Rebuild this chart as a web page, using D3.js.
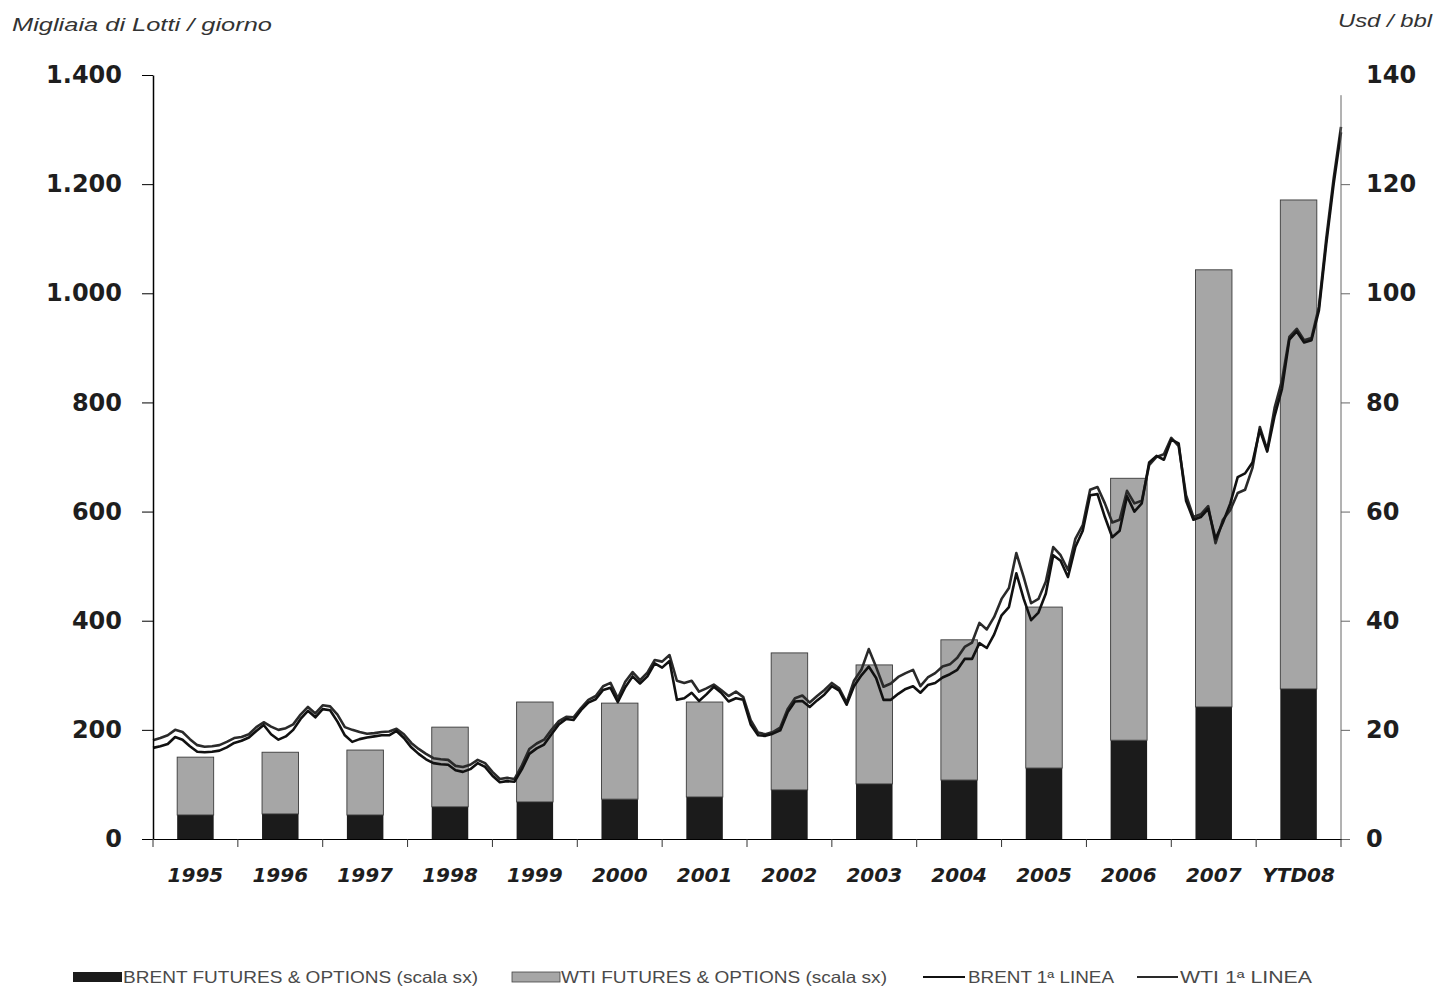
<!DOCTYPE html>
<html>
<head>
<meta charset="utf-8">
<script src="https://cdn.jsdelivr.net/npm/d3@7"></script>
<style>
    body { margin: 0; background: #fff; }
</style>
</head>
<body>
<div id="vis"></div>
<script>
//categories on the x axis
const years = ["1995", "1996", "1997", "1998", "1999", "2000", "2001", "2002", "2003", "2004", "2005", "2006", "2007", "YTD08"]

//thousands of lots per day, stacked bars (left scale)
const brentLots = [44, 46, 44, 59, 68, 73, 77, 90, 101, 108, 130, 181, 242, 275]
const wtiLots = [106, 113, 119, 146, 183, 176, 174, 251, 218, 257, 295, 480, 801, 896]

//monthly first line price usd/bbl (right scale), jan 1995 -> jun 2008
const brentPrice = [
    16.7, 17.0, 17.4, 18.7, 18.2, 17.0, 16.0, 15.9, 16.0, 16.2, 16.8, 17.6,
    18.0, 18.6, 19.8, 20.9, 19.2, 18.2, 18.8, 20.0, 22.0, 23.5, 22.3, 23.8,
    23.6, 21.5, 19.0, 17.8, 18.3, 18.6, 18.8, 19.0, 19.0, 19.8, 18.5, 16.8,
    15.6, 14.6, 13.9, 13.7, 13.6, 12.6, 12.3, 12.8, 13.9, 13.2, 11.6, 10.4,
    10.6, 10.5, 12.8, 15.6, 16.6, 17.3, 19.2, 21.0, 22.0, 21.8, 23.6, 25.0,
    25.6, 27.3, 27.7, 25.1, 27.8, 29.8, 28.5, 29.8, 32.2, 31.4, 32.6, 25.5,
    25.8, 26.8, 25.3, 26.5, 27.9, 26.8, 25.2, 25.8, 25.5, 21.0, 19.0, 18.9,
    19.3, 19.9, 23.2, 25.2, 25.3, 24.2, 25.4, 26.5, 28.0, 27.2, 24.6, 28.0,
    30.0, 31.6, 29.5, 25.5, 25.5, 26.6, 27.5, 28.0, 26.8, 28.2, 28.6, 29.6,
    30.2, 31.0, 33.0, 33.0, 35.9, 35.0, 37.5, 41.0, 42.5, 48.7, 44.0, 40.1,
    41.5, 45.0, 52.0, 51.0, 48.0, 53.5, 56.5, 63.0, 63.2, 59.0, 55.3, 56.5,
    62.8, 60.0, 61.5, 69.0, 70.2, 69.5, 73.2, 72.5, 62.0, 58.5, 59.0, 60.5,
    55.0, 58.0, 61.5, 66.3, 67.0, 69.0, 75.0, 71.0, 77.5, 82.5, 91.5, 93.0,
    91.0, 91.4, 96.8, 109.0, 120.0, 129.5
]
const wtiPrice = [
    18.1, 18.5, 19.0, 20.0, 19.6, 18.3, 17.2, 16.9, 17.0, 17.2, 17.8, 18.5,
    18.7, 19.2, 20.5, 21.4, 20.6, 20.0, 20.3, 21.0, 22.8, 24.2, 23.0, 24.5,
    24.3, 22.8, 20.5, 20.0, 19.6, 19.3, 19.4, 19.6, 19.7, 20.2, 19.2, 17.6,
    16.5, 15.6, 14.8, 14.6, 14.5, 13.4, 13.2, 13.6, 14.5, 13.9, 12.3, 11.0,
    11.2, 11.0, 13.5, 16.5, 17.5, 18.2, 20.0, 21.6, 22.4, 22.3, 24.0, 25.5,
    26.2, 28.0, 28.6, 25.8, 28.8, 30.6, 29.1, 30.5, 32.8, 32.5, 33.7, 29.0,
    28.6, 29.0, 27.0, 27.6, 28.3, 27.3, 26.2, 27.0, 26.0, 21.8, 19.5, 19.2,
    19.6, 20.4, 23.8, 25.8, 26.3, 25.0, 26.2, 27.3, 28.6, 27.6, 25.0, 29.0,
    31.0, 34.8, 31.5, 27.9, 28.5, 29.7, 30.4, 31.0, 28.0, 29.6, 30.4, 31.6,
    32.0, 33.2, 35.2, 36.0, 39.6, 38.4, 40.7, 44.0, 46.0, 52.4, 48.0, 43.2,
    44.0, 47.2, 53.5, 52.0, 49.3, 55.0, 57.5, 64.0, 64.5, 61.5, 58.0, 58.5,
    63.8, 61.5, 62.0, 68.5, 70.0, 70.5, 73.5, 72.0, 63.0, 59.0, 59.5, 61.0,
    54.2, 58.5, 60.3, 63.4, 64.0, 68.0, 75.5, 71.3, 79.0, 84.0, 92.0, 93.5,
    91.4, 91.8, 97.5, 110.0, 121.0, 130.5
]

//tick values for the two y axes
const leftTicks = [0, 200, 400, 600, 800, 1000, 1200, 1400]
const rightTicks = [0, 20, 40, 60, 80, 100, 120, 140]

//legend texts
const legendLabels = ["BRENT FUTURES & OPTIONS (scala sx)", "WTI FUTURES & OPTIONS (scala sx)", "BRENT 1ª LINEA", "WTI 1ª LINEA"]

//size of the page and of the plot area
const width = 1439
const height = 989
const margin = { top: 75, right: 98, bottom: 150, left: 153 }
const innerW = width - margin.left - margin.right
const innerH = height - margin.top - margin.bottom

const svg = d3.select("#vis")
    .append("svg")
    .attr("width", width)
    .attr("height", height)

const g = svg.append("g")
    .attr("transform", `translate(${margin.left}, ${margin.top})`)

//scales
const x = d3.scaleBand()
    .domain(years)
    .range([0, innerW])
    .padding(0)

const xMonth = d3.scaleLinear()
    .domain([0, brentPrice.length - 1])
    .range([0, innerW])

const yLeft = d3.scaleLinear()
    .domain([0, 1400])
    .range([innerH, 0])

const yRight = d3.scaleLinear()
    .domain([0, 140])
    .range([innerH, 0])

//stack the two volume series
const rows = years.map((year, i) => ({ year: year, brent: brentLots[i], wti: wtiLots[i] }))
const stacked = d3.stack().keys(["brent", "wti"])(rows)
const barColor = { brent: "#1b1b1b", wti: "#a6a6a6" }
const barW = x.bandwidth() * 0.43

g.selectAll(".series")
    .data(stacked)
    .enter()
    .append("g")
    .attr("class", "series")
    .attr("fill", d => barColor[d.key])
    .attr("stroke", d => d.key == "wti" ? "#3a3a3a" : "none")
    .attr("stroke-width", 0.9)
    .selectAll("rect")
    .data(d => d)
    .enter()
    .append("rect")
    .attr("x", d => x(d.data.year) + (x.bandwidth() - barW) / 2)
    .attr("width", barW)
    .attr("y", d => yLeft(d[1]))
    .attr("height", d => yLeft(d[0]) - yLeft(d[1]))

//price lines
const line = d3.line()
    .x((d, i) => xMonth(i))
    .y(d => yRight(d))

g.append("path")
    .datum(wtiPrice)
    .attr("fill", "none")
    .attr("stroke", "#2a2a2a")
    .attr("stroke-width", 2.6)
    .attr("stroke-linejoin", "round")
    .attr("d", line)

g.append("path")
    .datum(brentPrice)
    .attr("fill", "none")
    .attr("stroke", "#111")
    .attr("stroke-width", 2.6)
    .attr("stroke-linejoin", "round")
    .attr("d", line)

//left axis, italian number format
const it = d3.formatLocale({ decimal: ",", thousands: ".", grouping: [3], currency: ["", ""] })
const leftAxis = g.append("g")
    .call(d3.axisLeft(yLeft).tickValues(leftTicks).tickFormat(it.format(",")).tickSize(11).tickSizeOuter(0).tickPadding(20))
leftAxis.select(".domain").attr("stroke", "#000").attr("stroke-width", 1.5)
leftAxis.selectAll("text")
    .attr("font-family", "DejaVu Sans")
    .attr("font-size", 24)
    .attr("font-weight", "bold")
    .attr("fill", "#1e1e1e")

//right axis
const rightAxis = g.append("g")
    .attr("transform", `translate(${innerW}, 0)`)
    .call(d3.axisRight(yRight).tickValues(rightTicks).tickSize(9).tickSizeOuter(0).tickPadding(16))
rightAxis.select(".domain").remove()
rightAxis.append("line")
    .attr("y1", yRight(136.3))
    .attr("y2", yRight(0))
    .attr("stroke", "#666")
rightAxis.selectAll(".tick line")
    .attr("stroke", "#666")
    .attr("opacity", d => d == 140 ? 0 : 1)
rightAxis.selectAll("text")
    .attr("font-family", "DejaVu Sans")
    .attr("font-size", 24)
    .attr("font-weight", "bold")
    .attr("fill", "#1e1e1e")

//bottom axis with ticks on the category boundaries
const bottomAxis = g.append("g")
    .attr("transform", `translate(0, ${innerH})`)
    .call(d3.axisBottom(x).tickSize(0).tickPadding(29))
bottomAxis.select(".domain").attr("stroke", "#000")
bottomAxis.selectAll("text")
    .attr("font-family", "DejaVu Sans")
    .attr("font-size", 20)
    .attr("font-weight", "bold")
    .attr("font-style", "italic")
    .attr("fill", "#1e1e1e")

bottomAxis.selectAll(".bound")
    .data(d3.range(years.length + 1))
    .enter()
    .append("line")
    .attr("class", "bound")
    .attr("x1", i => i * x.step())
    .attr("x2", i => i * x.step())
    .attr("y1", 0)
    .attr("y2", 8)
    .attr("stroke", "#333")

//axis titles
svg.append("text")
    .attr("x", 12)
    .attr("y", 31)
    .attr("font-family", "Liberation Sans")
    .attr("font-size", 18)
    .attr("font-style", "italic")
    .attr("fill", "#333")
    .attr("textLength", 260)
    .attr("lengthAdjust", "spacingAndGlyphs")
    .text("Migliaia di Lotti / giorno")

svg.append("text")
    .attr("x", 1338)
    .attr("y", 27)
    .attr("font-family", "Liberation Sans")
    .attr("font-size", 18)
    .attr("font-style", "italic")
    .attr("fill", "#333")
    .attr("textLength", 94)
    .attr("lengthAdjust", "spacingAndGlyphs")
    .text("Usd / bbl")

//legend
const legendItems = [
    { label: legendLabels[0], type: "rect", color: barColor.brent, x0: 73, x1: 122, tx: 123, tw: 355 },
    { label: legendLabels[1], type: "rect", color: barColor.wti, x0: 512, x1: 560, tx: 561, tw: 326 },
    { label: legendLabels[2], type: "line", color: "#111", x0: 923, x1: 965, tx: 968, tw: 146 },
    { label: legendLabels[3], type: "line", color: "#2a2a2a", x0: 1137, x1: 1178, tx: 1180, tw: 132 }
]
const legend = svg.append("g")
    .attr("transform", "translate(0, 977)")

const items = legend.selectAll(".item")
    .data(legendItems)
    .enter()
    .append("g")
    .attr("class", "item")

items.filter(d => d.type == "rect")
    .append("rect")
    .attr("x", d => d.x0)
    .attr("y", -5)
    .attr("width", d => d.x1 - d.x0)
    .attr("height", 10)
    .attr("fill", d => d.color)
    .attr("stroke", d => d.color == barColor.wti ? "#444" : "none")
    .attr("stroke-width", 0.8)

items.filter(d => d.type == "line")
    .append("line")
    .attr("x1", d => d.x0)
    .attr("x2", d => d.x1)
    .attr("stroke", d => d.color)
    .attr("stroke-width", 2)

items.append("text")
    .attr("x", d => d.tx)
    .attr("y", 6)
    .attr("font-family", "Liberation Sans")
    .attr("font-size", 16.5)
    .attr("fill", "#4a4a4a")
    .attr("textLength", d => d.tw)
    .attr("lengthAdjust", "spacingAndGlyphs")
    .text(d => d.label)
</script>
</body>
</html>
